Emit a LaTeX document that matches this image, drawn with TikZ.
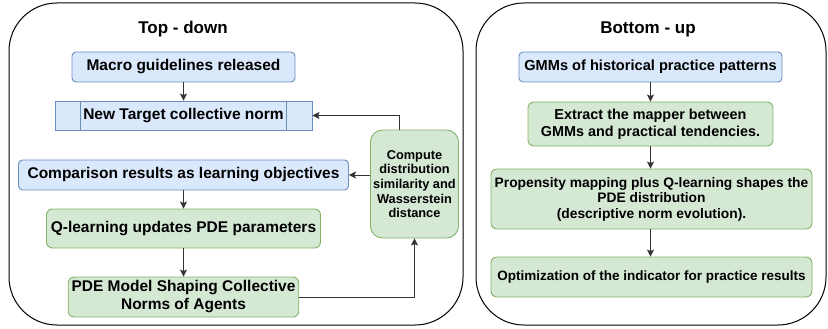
\documentclass[tikz,border=0pt]{standalone}
\usepackage{fontspec}
\setmainfont{Liberation Sans}
\usetikzlibrary{shapes,arrows.meta,calc,positioning}
\definecolor{bluefill}{HTML}{DAE8FC}
\definecolor{blueline}{HTML}{6C8EBF}
\definecolor{greenfill}{HTML}{D5E8D4}
\definecolor{greenline}{HTML}{82B366}
\definecolor{edgegray}{HTML}{333333}
\tikzstyle{blueblock} = [rectangle, draw=blueline, fill=bluefill, line width=0.9pt,
    text centered, rounded corners=4pt, font=\bfseries\fontsize{15.5}{18}\selectfont]
\tikzstyle{greenblock} = [rectangle, draw=greenline, fill=greenfill, line width=0.9pt,
    text centered, align=center, rounded corners=6pt, font=\bfseries\fontsize{15.5}{18}\selectfont]
\tikzstyle{panel} = [draw=black, line width=1pt, rounded corners=48pt]
\tikzstyle{title} = [font=\bfseries\fontsize{17}{20}\selectfont]
\tikzstyle{line} = [draw=edgegray, line width=0.9pt, -{Stealth[length=7pt,width=7pt,inset=1.5pt]}]

\begin{document}
\begin{tikzpicture}[x=1pt, y=-1pt, node distance=50pt]
    \useasboundingbox (0,0) rectangle (828,329);
    % Panels
    \draw [panel] (9,3) rectangle (463,325);
    \draw [panel] (476,3) rectangle (826,325);
    \node [title] (t_top) at (183,29) {Top - down};
    \node [title] (t_bot) at (648,29) {Bottom - up};
    % Place nodes (top - down)
    \node [blueblock, minimum width=223pt, minimum height=30pt] (macro) at (183.5,67) {Macro guidelines released};
    \node [blueblock, rounded corners=0pt, minimum width=257pt, minimum height=29pt, below of=macro, node distance=48.5pt] (target) {New Target collective norm};
    \node [blueblock, minimum width=330pt, minimum height=30pt, below of=target, node distance=59.5pt] (compare) {Comparison results as learning objectives};
    \node [greenblock, minimum width=274pt, minimum height=39pt, below of=compare, node distance=53.5pt] (qlearn) {Q-learning updates PDE parameters};
    \node [greenblock, minimum width=224pt, minimum height=40pt, below of=qlearn, node distance=68.5pt] (pde) {PDE Model Shaping Collective\\Norms of Agents};
    \node [greenblock, rounded corners=12pt, minimum width=88pt, minimum height=108pt, inner sep=1pt,
        font=\bfseries\fontsize{12.8}{14.6}\selectfont] (compute) at (414.5,184)
        {Compute\\distribution\\similarity and\\Wasserstein\\distance};
    \draw [blueline, line width=0.9pt] ([xshift=26pt]target.north west) -- ([xshift=26pt]target.south west);
    \draw [blueline, line width=0.9pt] ([xshift=-26pt]target.north east) -- ([xshift=-26pt]target.south east);
    % Place nodes (bottom - up)
    \node [blueblock, minimum width=263pt, minimum height=30pt, font=\bfseries\fontsize{14.6}{17}\selectfont] (gmm) at (650.5,67) {GMMs of historical practice patterns};
    \node [greenblock, minimum width=245pt, minimum height=44pt, font=\bfseries\fontsize{14.4}{17}\selectfont, below of=gmm, node distance=57pt] (extract) {Extract the mapper between\\GMMs and practical tendencies.};
    \node [greenblock, minimum width=321pt, minimum height=60pt, font=\bfseries\fontsize{13.8}{15.5}\selectfont] (propen) at (651.5,199) {Propensity mapping plus Q-learning shapes the\\PDE distribution\\(descriptive norm evolution).};
    \node [greenblock, minimum width=321pt, minimum height=40pt, font=\bfseries\fontsize{13.5}{16}\selectfont, below of=propen, node distance=78pt] (optim) {Optimization of the indicator for practice results};
    % Draw edges
    \path [line] (macro.south) -- (target.north);
    \path [line] ([xshift=-15pt]compute.north) |- (target.east);
    \path [line] (compute.west |- compare.east) -- (compare.east);
    \path [line] (compare.south) -- (qlearn.north);
    \path [line] (qlearn.south) -- (pde.north);
    \path [line] (pde.east) -| (compute.south);
    \path [line] (gmm.south) -- (extract.north);
    \path [line] (extract.south) -- (extract.south |- propen.north);
    \path [line] (extract.south |- propen.south) -- (extract.south |- optim.north);
\end{tikzpicture}
\end{document}
